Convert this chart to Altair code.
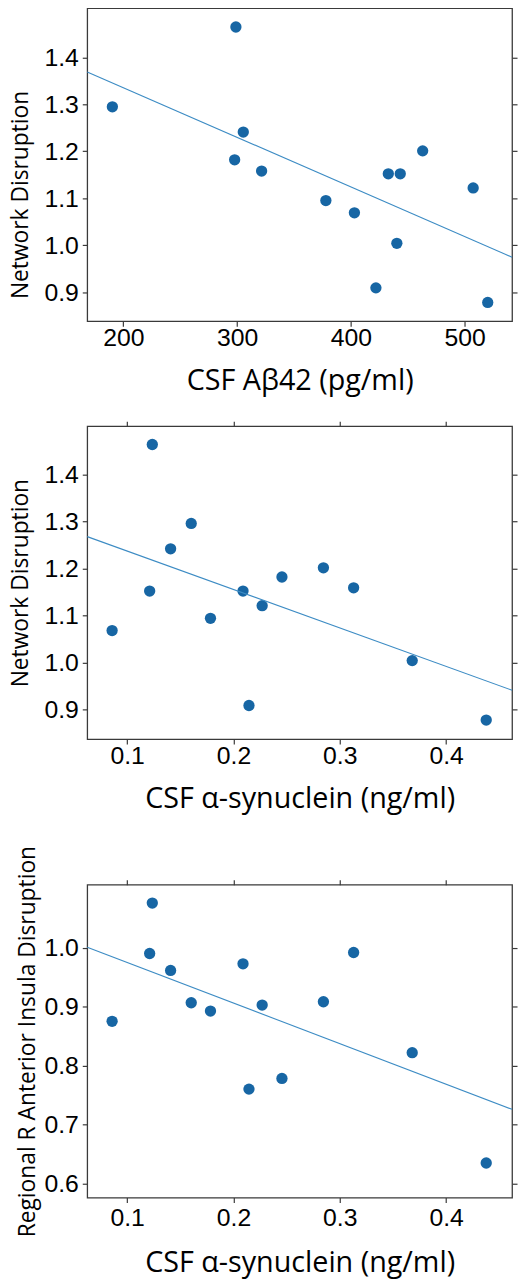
import altair as alt
import pandas as pd

# ---- data ----
abeta42 = [190.4, 299.0, 305.5, 297.9, 321.6, 378.1, 403.2, 433.0, 443.5, 463.2, 507.6, 440.5, 422.1, 520.4]
net_disr_abeta = [1.295, 1.465, 1.241, 1.182, 1.158, 1.095, 1.069, 1.152, 1.152, 1.201, 1.122, 1.004, 0.909, 0.878]

asyn = [0.0859, 0.1237, 0.1212, 0.1409, 0.1603, 0.1784, 0.2090, 0.2270, 0.2146, 0.2456, 0.2846, 0.3130, 0.3681, 0.4377]
net_disr_asyn = [1.068, 1.464, 1.152, 1.242, 1.296, 1.094, 1.152, 1.121, 0.9085, 1.182, 1.2015, 1.159, 1.004, 0.8775]
insula_disr = [0.8752, 1.0763, 0.9905, 0.9617, 0.9068, 0.8927, 0.9729, 0.9029, 0.760, 0.7781, 0.9085, 0.9922, 0.822, 0.6344]

x_ticks_abeta = [200, 300, 400, 500]
x_ticks_asyn = [0.1, 0.2, 0.3, 0.4]
y_ticks_net = [0.9, 1.0, 1.1, 1.2, 1.3, 1.4]
y_ticks_insula = [0.6, 0.7, 0.8, 0.9, 1.0]

DOT = "#1766a4"
LINE = "#3d8cc4"
FRAME = "#3a3a3a"

W, H = 429, 316


def panel(xs, ys, xdom, ydom, xticks, yticks, xtitle, ytitle, xfmt,
          ytitle_pad, ytitle_y, xlabel_pad=0, xtitle_pad=16):
    df = pd.DataFrame({"x": xs, "y": ys})
    xs_ = alt.Scale(domain=xdom, nice=False, zero=False)
    ys_ = alt.Scale(domain=ydom, nice=False, zero=False)
    common = dict(domain=False, grid=False, tickSize=5, tickColor=FRAME, tickWidth=1.2)
    pts = alt.Chart(df).mark_circle(size=130, color=DOT, opacity=1).encode(
        x=alt.X("x:Q", scale=xs_, axis=alt.Axis(
            title=xtitle, values=xticks, format=xfmt, labelFont="Liberation Sans",
            labelFontSize=25, labelColor="#000", labelPadding=xlabel_pad,
            titleFont="Open Sans", titleFontSize=29, titleFontWeight="normal",
            titleColor="#000", titlePadding=xtitle_pad, **common)),
        y=alt.Y("y:Q", scale=ys_, axis=alt.Axis(
            title=ytitle, values=yticks, format=".1f", labelFont="Liberation Sans",
            labelFontSize=25, labelColor="#000", labelPadding=4,
            titleFont="Open Sans", titleFontSize=23, titleFontWeight="normal",
            titleColor="#000", titlePadding=ytitle_pad, titleY=ytitle_y, **common)),
    )
    fit = alt.Chart(df).transform_regression("x", "y", extent=xdom).mark_line(
        color=LINE, strokeWidth=1.1).encode(
        x=alt.X("x:Q", scale=xs_, axis=alt.Axis(orient="top", values=xticks, labels=False, title=None, **common)),
        y=alt.Y("y:Q", scale=ys_, axis=alt.Axis(orient="right", values=yticks, labels=False, title=None, **common)),
    )
    return alt.layer(pts, fit).resolve_axis(x="independent", y="independent").properties(width=W, height=H)


p1 = panel(abeta42, net_disr_abeta, [168.3, 541.8], [0.838, 1.505], x_ticks_abeta, y_ticks_net,
           "CSF A\u03b242 (pg/ml)", "Network Disruption", "d", 12, 188)
p2 = panel(asyn, net_disr_asyn, [0.0625, 0.462], [0.837, 1.503], x_ticks_asyn, y_ticks_net,
           "CSF \u03b1-synuclein (ng/ml)", "Network Disruption", ".1f", 12, 158)
p3 = panel(asyn, insula_disr, [0.0625, 0.462], [0.5756, 1.1075], x_ticks_asyn, y_ticks_insula,
           "CSF \u03b1-synuclein (ng/ml)", "Regional R Anterior Insula Disruption", ".1f", 4, 158,
           xlabel_pad=3, xtitle_pad=19)

chart = alt.vconcat(alt.vconcat(p1, p2, spacing=23), p3, spacing=30).configure(
    background="white", padding={"top": -13, "left": 0, "right": 0, "bottom": 0}
).configure_view(stroke=FRAME, strokeWidth=1.3)

chart.save("out.html", embed_options={"renderer": "svg", "actions": False})
